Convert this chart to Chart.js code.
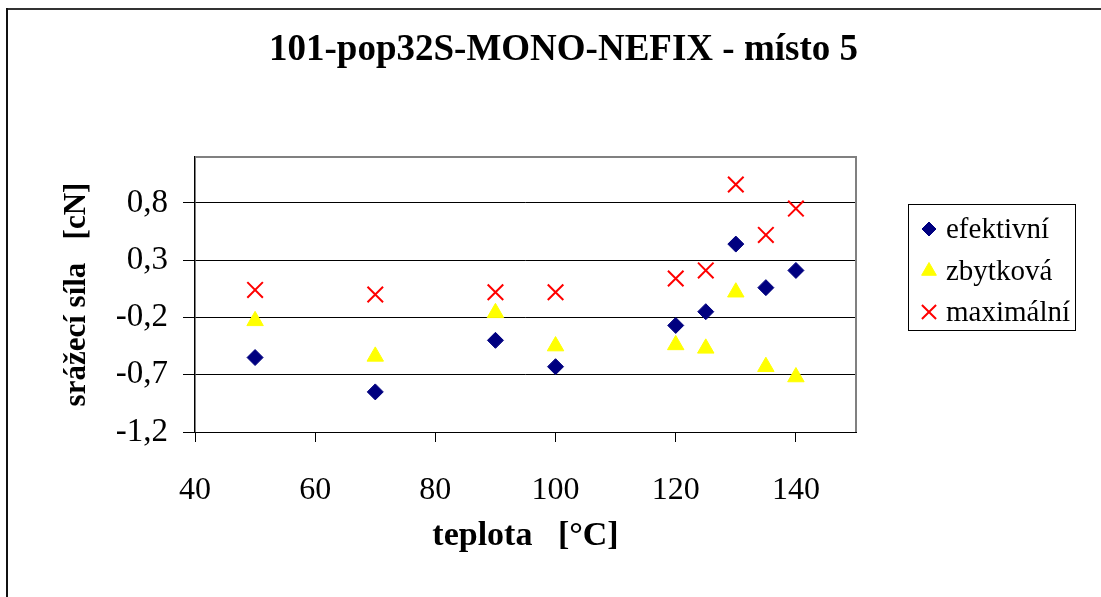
<!DOCTYPE html>
<html>
<head>
<meta charset="utf-8">
<script src="https://cdn.jsdelivr.net/npm/chart.js@4.4.1/dist/chart.umd.min.js"></script>
<style>
  html, body { margin: 0; padding: 0; background: #fff; overflow: hidden; }
  #wrap { position: relative; width: 1101px; height: 597px; overflow: hidden; }
  #c { position: absolute; left: 0; top: 0; }
  .frameTop { position: absolute; left: 6px; top: 8px; width: 1200px; height: 2px; background: #333; }
  .frameLeft { position: absolute; left: 6px; top: 8px; width: 2px; height: 700px; background: #111; }
</style>
</head>
<body>
<div id="wrap">
  <canvas id="c" width="1127" height="597"></canvas>
  <div class="frameTop"></div>
  <div class="frameLeft"></div>
</div>
<script>
// ---- data ----
const titleText = '101-pop32S-MONO-NEFIX - místo 5';
const xTitle = 'teplota   [°C]';
const yTitle = 'srážecí síla   [cN]';
const temps = [50, 70, 90, 100, 120, 125, 130, 135, 140];
const efektivni = [-0.55, -0.85, -0.40, -0.63, -0.27, -0.15, 0.44, 0.06, 0.21];
const zbytkova = [-0.23, -0.54, -0.16, -0.45, -0.44, -0.47, 0.02, -0.63, -0.72];
const maximalni = [0.04, 0.00, 0.02, 0.02, 0.14, 0.21, 0.96, 0.52, 0.75];
const seriesNames = ['efektivní', 'zbytková', 'maximální'];
const xTickValues = [40, 60, 80, 100, 120, 140];
const yTickValues = [-1.2, -0.7, -0.2, 0.3, 0.8];

const serif = '"Liberation Serif", "Times New Roman", serif';

function toPts(ys) { return temps.map((t, i) => ({ x: t, y: ys[i] })); }

const plotFrame = {
  id: 'plotFrame',
  beforeDatasetsDraw(chart) {
    const { ctx, chartArea: a } = chart;
    ctx.save();
    ctx.strokeStyle = '#808080';
    ctx.lineWidth = 2;
    ctx.beginPath();
    ctx.moveTo(a.left, a.top);
    ctx.lineTo(a.right, a.top);
    ctx.lineTo(a.right, a.bottom);
    ctx.stroke();
    ctx.restore();
  }
};

const boxLegend = {
  id: 'boxLegend',
  afterDraw(chart) {
    const { ctx } = chart;
    const bx = 908, by = 204, bw = 167, bh = 126;
    ctx.save();
    ctx.strokeStyle = '#000';
    ctx.lineWidth = 1;
    ctx.strokeRect(bx + 0.5, by + 0.5, bw, bh);
    const rows = [229, 271, 312];
    chart.data.datasets.forEach((ds, i) => {
      const y = rows[i];
      ctx.fillStyle = ds.backgroundColor;
      ctx.strokeStyle = ds.borderColor;
      ctx.lineWidth = ds.borderWidth;
      const r = ds.pointStyle === 'crossRot' ? 10 : (ds.pointStyle === 'triangle' ? 8.5 : 7);
      Chart.helpers.drawPoint(ctx, { pointStyle: ds.pointStyle, radius: r, rotation: 0, borderWidth: ds.borderWidth }, 929, y);
      ctx.fillStyle = '#000';
      ctx.font = '29px ' + serif;
      ctx.textBaseline = 'middle';
      ctx.textAlign = 'left';
      ctx.fillText(ds.label, 946, y + 1);
    });
    ctx.restore();
  }
};

new Chart(document.getElementById('c'), {
  type: 'scatter',
  data: {
    datasets: [
      { label: seriesNames[0], data: toPts(efektivni), pointStyle: 'rectRot', pointRadius: 8,
        backgroundColor: '#000080', borderColor: '#000080', borderWidth: 1 },
      { label: seriesNames[1], data: toPts(zbytkova), pointStyle: 'triangle', pointRadius: 9.5,
        backgroundColor: '#FFFF00', borderColor: '#FFFF00', borderWidth: 1 },
      { label: seriesNames[2], data: toPts(maximalni), pointStyle: 'crossRot', pointRadius: 11,
        backgroundColor: '#FF0000', borderColor: '#FF0000', borderWidth: 2 }
    ]
  },
  options: {
    responsive: false,
    animation: false,
    layout: { padding: 0 },
    plugins: {
      legend: { display: false },
      tooltip: { enabled: false },
      title: {
        display: true, text: titleText, color: '#000',
        font: { family: serif, size: 37, weight: 'bold' },
        padding: { top: 28, bottom: 84.6 }
      }
    },
    scales: {
      x: {
        type: 'linear', min: 40, max: 150,
        afterBuildTicks(s) { s.ticks = xTickValues.map(v => ({ value: v })); },
        afterFit(s) { s.height = 165; },
        grid: { drawOnChartArea: false, drawTicks: true, tickLength: 10, color: '#000', lineWidth: 1 },
        border: { display: true, color: '#000', width: 1 },
        ticks: { color: '#000', padding: 29, font: { family: serif, size: 32 }, maxRotation: 0 },
        title: { display: true, text: xTitle, color: '#000', padding: { top: 0, bottom: 40.6 },
          font: { family: serif, size: 34, weight: 'bold' } }
      },
      y: {
        type: 'linear', min: -1.2, max: 1.2,
        afterBuildTicks(s) { s.ticks = yTickValues.map(v => ({ value: v })); },
        afterFit(s) { s.width = 195; },
        grid: { drawOnChartArea: true, drawTicks: true, tickLength: 12, color: '#000', lineWidth: 1 },
        border: { display: true, color: '#000', width: 1.5 },
        ticks: { color: '#000', padding: 15, font: { family: serif, size: 33 },
          callback: v => v.toFixed(1).replace('.', ',') },
        title: { display: true, text: yTitle, color: '#000', padding: { top: 58, bottom: 0 },
          font: { family: serif, size: 31, weight: 'bold' } }
      },
      spacer: {
        type: 'linear', position: 'right', display: true,
        afterFit(s) { s.width = 271; },
        grid: { display: false, drawTicks: false },
        border: { display: false },
        ticks: { display: false },
        title: { display: false }
      }
    }
  },
  plugins: [plotFrame, boxLegend]
});
</script>
</body>
</html>
